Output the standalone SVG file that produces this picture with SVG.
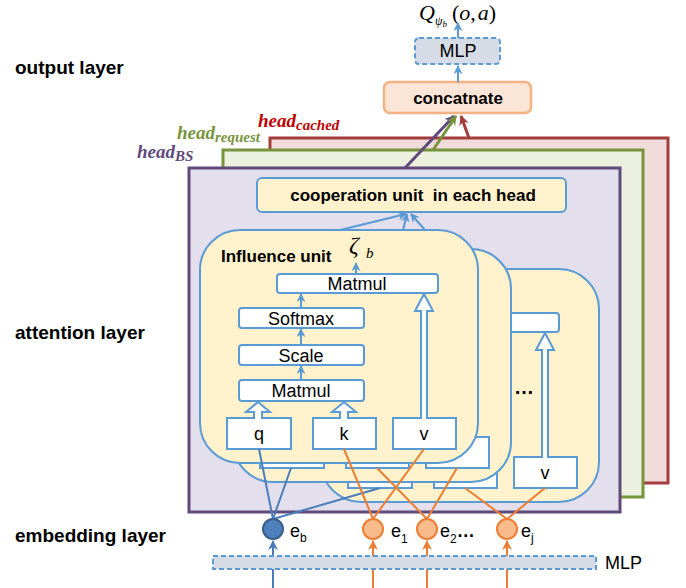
<svg xmlns="http://www.w3.org/2000/svg" xmlns:xlink="http://www.w3.org/1999/xlink" width="686" height="588" viewBox="0 0 686 588">
<defs>
<style>
.lbl{font-family:"Liberation Sans",Arial,sans-serif;font-weight:bold;font-size:19px;fill:#000}
.b17{font-family:"Liberation Sans",Arial,sans-serif;font-weight:bold;font-size:17px;text-anchor:middle;fill:#000}
.t{font-family:"Liberation Sans",Arial,sans-serif;font-size:18px;text-anchor:middle;fill:#000}
.e{font-family:"Liberation Sans",Arial,sans-serif;font-size:18px;fill:#000}
.unit{fill:#fff2cc;stroke:#5b9bd5;stroke-width:2}
.bar{fill:#fff;stroke:#5b9bd5;stroke-width:2}
.hol{fill:#fff;stroke:#5b9bd5;stroke-width:2}
.thin{stroke:#5b9bd5;stroke-width:2;fill:none}
.hd{font-family:"Liberation Serif","Times New Roman",serif;font-weight:bold;font-style:italic;font-size:19px}
.math{font-family:"Liberation Serif","Times New Roman",serif;font-style:italic;fill:#000}
.cb{stroke:#4a7ebb;stroke-width:2;fill:none}
.co{stroke:#ed7d31;stroke-width:2;fill:none}
</style>
<marker id="mB" viewBox="0 0 10 10" refX="9" refY="5" markerWidth="9" markerHeight="9" markerUnits="userSpaceOnUse" orient="auto"><path d="M0,0 L10,5 L0,10 L3,5z" fill="#5b9bd5"/></marker>
<marker id="mD" viewBox="0 0 10 10" refX="9" refY="5" markerWidth="10" markerHeight="10" markerUnits="userSpaceOnUse" orient="auto"><path d="M0,0 L10,5 L0,10 L3,5z" fill="#4a7ebb"/></marker>
<marker id="mO" viewBox="0 0 10 10" refX="9" refY="5" markerWidth="10" markerHeight="10" markerUnits="userSpaceOnUse" orient="auto"><path d="M0,0 L10,5 L0,10 L3,5z" fill="#ed7d31"/></marker>
<marker id="mP" viewBox="0 0 10 10" refX="9" refY="5" markerWidth="10" markerHeight="10" markerUnits="userSpaceOnUse" orient="auto"><path d="M0,0 L10,5 L0,10 L3,5z" fill="#604a7b"/></marker>
<marker id="mG" viewBox="0 0 10 10" refX="9" refY="5" markerWidth="10" markerHeight="10" markerUnits="userSpaceOnUse" orient="auto"><path d="M0,0 L10,5 L0,10 L3,5z" fill="#77933c"/></marker>
<marker id="mR" viewBox="0 0 10 10" refX="9" refY="5" markerWidth="10" markerHeight="10" markerUnits="userSpaceOnUse" orient="auto"><path d="M0,0 L10,5 L0,10 L3,5z" fill="#a33c3c"/></marker>
<g id="unitBase">
 <rect class="unit" x="200" y="230" width="278" height="233" rx="40"/>
 <rect class="bar" x="277" y="274" width="161" height="19" rx="3"/>
 <rect class="bar" x="239" y="308" width="125" height="20" rx="3"/>
 <rect class="bar" x="239" y="345" width="125" height="20" rx="3"/>
 <rect class="bar" x="239" y="380" width="125" height="21" rx="3"/>
 <rect class="bar" x="227" y="418" width="64" height="31"/>
 <rect class="bar" x="313" y="418" width="63" height="31"/>
 <rect class="bar" x="393" y="418" width="63" height="31"/>
 <path class="hol" d="M254,419 V412 H246 L258,402 L270,412 H262 V419"/>
 <path class="hol" d="M340,419 V412 H332 L344,402 L356,412 H348 V419"/>
 <path class="hol" d="M421,419 V311 H415 L424,294 L433,311 H427 V419"/>
 <line class="thin" x1="301" y1="380" x2="301" y2="366" marker-end="url(#mB)"/>
 <line class="thin" x1="301" y1="345" x2="301" y2="329" marker-end="url(#mB)"/>
 <line class="thin" x1="301" y1="308" x2="301" y2="294" marker-end="url(#mB)"/>
 <line class="thin" x1="356" y1="274" x2="356" y2="263" marker-end="url(#mB)"/>
</g>
</defs>

<g id="head-cached">
 <rect x="270" y="138" width="398" height="345" fill="#f2dcdb" stroke="#a33c3c" stroke-width="3"/>
 <text class="hd" x="258" y="127" fill="#c00000">head<tspan font-size="15" dy="3">cached</tspan></text>
</g>
<g id="head-request">
 <rect x="223" y="150" width="420" height="347" fill="#ebf1de" stroke="#77933c" stroke-width="3"/>
 <text class="hd" x="177" y="139" fill="#77933c">head<tspan font-size="15" dy="3">request</tspan></text>
</g>
<g id="head-BS">
 <rect x="189" y="168" width="431" height="344" fill="#e4dfec" stroke="#604a7b" stroke-width="3"/>
 <text class="hd" x="137" y="158" fill="#604a7b">head<tspan font-size="15" dy="3">BS</tspan></text>
</g>

<g id="cooperation-unit">
 <rect x="257" y="178" width="309" height="34" rx="5" fill="#fff2cc" stroke="#5b9bd5" stroke-width="2"/>
 <text class="b17" x="413" y="201">cooperation unit &#160;in each head</text>
</g>

<g id="concatenate">
 <rect x="384" y="82" width="147" height="31" rx="6" fill="#fbe5d6" stroke="#f4b183" stroke-width="2.5"/>
 <text class="b17" x="458" y="104">concatnate</text>
</g>

<g id="mlp-top">
 <rect x="415" y="38" width="85" height="26" rx="4" fill="#d6dce5" stroke="#5b9bd5" stroke-width="2" stroke-dasharray="5,3"/>
 <text class="t" x="458" y="57" font-size="16">MLP</text>
</g>

<g id="q-output">
 <text class="math" x="419" y="20" font-size="22">Q</text>
 <text class="math" x="435" y="25" font-size="12">ψ<tspan font-size="9" dy="2">b</tspan></text>
 <text x="452" y="20" font-size="22" font-family="'Liberation Serif','Times New Roman',serif">(<tspan font-style="italic">o</tspan>,<tspan font-style="italic" dx="2">a</tspan>)</text>
</g>

<g id="influence-unit-3">
 <use xlink:href="#unitBase" href="#unitBase" transform="translate(121,39)"/>
 <text class="t" x="545" y="479">v</text>
 <text x="514" y="394" font-family="'Liberation Sans',Arial,sans-serif" font-weight="bold" font-size="20">…</text>
</g>
<g id="influence-unit-2">
 <use xlink:href="#unitBase" href="#unitBase" transform="translate(33,19)"/>
</g>
<g id="influence-unit-1">
 <use xlink:href="#unitBase" href="#unitBase"/>
 <text x="221" y="262" font-family="'Liberation Sans',Arial,sans-serif" font-weight="bold" font-size="17">Influence unit</text>
 <text class="math" x="349" y="253" font-size="24">ζ</text>
 <text class="math" x="366" y="258" font-size="15">b</text>
 <text class="t" x="357" y="290">Matmul</text>
 <text class="t" x="301" y="325">Softmax</text>
 <text class="t" x="301" y="362">Scale</text>
 <text class="t" x="301" y="397">Matmul</text>
 <text class="t" x="259" y="440">q</text>
 <text class="t" x="344" y="440">k</text>
 <text class="t" x="424" y="440">v</text>
</g>

<g id="connectors">
 <line x1="405" y1="168" x2="454" y2="116" stroke="#604a7b" stroke-width="3" marker-end="url(#mP)"/>
 <line x1="433" y1="150" x2="456" y2="116" stroke="#77933c" stroke-width="3" marker-end="url(#mG)"/>
 <line x1="469" y1="138" x2="461" y2="116" stroke="#a33c3c" stroke-width="3" marker-end="url(#mR)"/>
 <line class="thin" x1="458" y1="82" x2="458" y2="66" stroke-width="3" marker-end="url(#mB)"/>
 <line class="thin" x1="458" y1="38" x2="458" y2="23" stroke-width="3" marker-end="url(#mB)"/>
 <line class="thin" x1="340" y1="230" x2="406" y2="214" marker-end="url(#mB)"/>
 <line class="thin" x1="403" y1="230" x2="407" y2="214" marker-end="url(#mB)"/>
 <line class="thin" x1="425" y1="230" x2="411" y2="214" marker-end="url(#mB)"/>
 <line class="cb" x1="273" y1="519" x2="259" y2="449"/>
 <line class="cb" x1="273" y1="519" x2="291" y2="468"/>
 <line class="cb" x1="273" y1="519" x2="380" y2="488"/>
 <line class="co" x1="373" y1="519" x2="344" y2="449"/>
 <line class="co" x1="373" y1="519" x2="424" y2="449"/>
 <line class="co" x1="427" y1="519" x2="377" y2="468"/>
 <line class="co" x1="427" y1="519" x2="457" y2="468"/>
 <line class="co" x1="507" y1="519" x2="465" y2="488"/>
 <line class="co" x1="507" y1="519" x2="545" y2="488"/>
 <line class="cb" x1="273" y1="588" x2="273" y2="541" stroke-width="3" marker-end="url(#mD)"/>
 <line class="co" x1="373" y1="588" x2="373" y2="541" stroke-width="3" marker-end="url(#mO)"/>
 <line class="co" x1="427" y1="588" x2="427" y2="541" stroke-width="3" marker-end="url(#mO)"/>
 <line class="co" x1="507" y1="588" x2="507" y2="541" stroke-width="3" marker-end="url(#mO)"/>
</g>

<g id="e-b">
 <circle cx="273" cy="529" r="10" fill="#4f81bd" stroke="#385d8a" stroke-width="2"/>
 <text class="e" x="290" y="537">e<tspan font-size="12" dy="5">b</tspan></text>
</g>
<g id="e-1">
 <circle cx="373" cy="529" r="10" fill="#f8bb8c" stroke="#ed7d31" stroke-width="2"/>
 <text class="e" x="391" y="537">e<tspan font-size="12" dy="6">1</tspan></text>
</g>
<g id="e-2">
 <circle cx="427" cy="529" r="10" fill="#f8bb8c" stroke="#ed7d31" stroke-width="2"/>
 <text class="e" x="440" y="537">e<tspan font-size="12" dy="6">2</tspan><tspan dy="-6" font-weight="bold">…</tspan></text>
</g>
<g id="e-j">
 <circle cx="507" cy="529" r="10" fill="#f8bb8c" stroke="#ed7d31" stroke-width="2"/>
 <text class="e" x="521" y="537">e<tspan font-size="12" dy="5">j</tspan></text>
</g>

<g id="mlp-bottom">
 <rect x="213" y="556" width="383" height="13" fill="#d6dce5" stroke="#5b9bd5" stroke-width="2" stroke-dasharray="5,3"/>
 <text class="e" x="605" y="569" font-size="17">MLP</text>
</g>

<g id="layer-labels">
 <text class="lbl" x="15" y="74">output layer</text>
 <text class="lbl" x="15" y="339">attention layer</text>
 <text class="lbl" x="15" y="542">embedding layer</text>
</g>
</svg>
